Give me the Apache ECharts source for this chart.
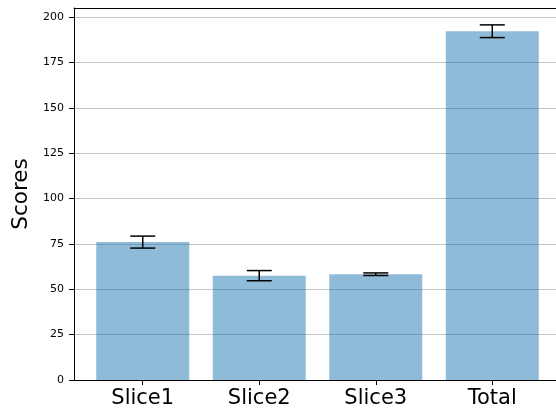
<!DOCTYPE html>
<html>
<head>
<meta charset="utf-8">
<script src="https://cdn.jsdelivr.net/npm/echarts@6/dist/echarts.min.js"></script>
<style>
html, body { margin: 0; padding: 0; background: #fff; }
#main { width: 556px; height: 413px; }
</style>
</head>
<body>
<div id="main"></div>
<script>
var categories = ['Slice1', 'Slice2', 'Slice3', 'Total'];
var scores = [76.0, 57.5, 58.3, 192.2];
var errors = [3.3, 2.8, 0.7, 3.5];
var yTicks = [0, 25, 50, 75, 100, 125, 150, 175, 200];

var chart = echarts.init(document.getElementById('main'));

var barData = [];
var errData = [];
for (var i = 0; i < categories.length; i++) {
    barData.push([i, scores[i]]);
    errData.push([i, scores[i] - errors[i], scores[i] + errors[i]]);
}

var font = 'DejaVu Sans';
// x range cut at the right edge of the picture (matplotlib limits -0.59..3.59)
var xMin = -0.59, xMax = 3.547;

var option = {
    animation: false,
    backgroundColor: '#fff',
    grid: { left: 74, right: 0, top: 8, bottom: 33 },
    xAxis: [
        {
            type: 'value',
            min: xMin,
            max: xMax,
            splitLine: { show: false },
            axisLine: { onZero: false, lineStyle: { color: '#000', width: 1 } },
            axisTick: {
                customValues: [0, 1, 2, 3],
                length: 5,
                lineStyle: { color: '#000' }
            },
            axisLabel: {
                customValues: [0, 1, 2, 3],
                formatter: function (v) { return categories[Math.round(v)]; },
                fontFamily: font,
                fontSize: 21,
                color: '#000',
                margin: 8
            }
        },
        {
            // top spine
            type: 'value',
            position: 'top',
            min: xMin,
            max: xMax,
            splitLine: { show: false },
            axisLine: { onZero: false, lineStyle: { color: '#000', width: 1 } },
            axisTick: { show: false },
            axisLabel: { show: false }
        }
    ],
    yAxis: {
        type: 'value',
        min: 0,
        max: 205,
        interval: 25,
        name: 'Scores',
        nameLocation: 'middle',
        nameGap: 40,
        nameTextStyle: { fontFamily: font, fontSize: 21.5, color: '#000' },
        axisLine: { show: true, onZero: false, lineStyle: { color: '#000', width: 1 } },
        axisTick: {
            customValues: yTicks,
            length: 5,
            lineStyle: { color: '#000' }
        },
        axisLabel: {
            customValues: yTicks,
            fontFamily: font,
            fontSize: 11,
            color: '#000',
            margin: 10
        },
        splitLine: { show: true, lineStyle: { color: '#c4c4c4', width: 1 } }
    },
    series: [
        {
            type: 'bar',
            data: barData,
            barWidth: 93,
            itemStyle: { color: 'rgba(31,119,180,0.5)' }
        },
        {
            type: 'custom',
            data: errData,
            z: 10,
            renderItem: function (params, api) {
                var lo = api.coord([api.value(0), api.value(1)]);
                var hi = api.coord([api.value(0), api.value(2)]);
                var half = 12.5;
                var style = { stroke: '#000', lineWidth: 1.5 };
                return {
                    type: 'group',
                    children: [
                        { type: 'line', shape: { x1: lo[0], y1: lo[1], x2: hi[0], y2: hi[1] }, style: style },
                        { type: 'line', shape: { x1: lo[0] - half, y1: lo[1], x2: lo[0] + half, y2: lo[1] }, style: style },
                        { type: 'line', shape: { x1: hi[0] - half, y1: hi[1], x2: hi[0] + half, y2: hi[1] }, style: style }
                    ]
                };
            }
        }
    ]
};

chart.setOption(option);

window.onresize = function () {
    chart.resize();
};
</script>
</body>
</html>
